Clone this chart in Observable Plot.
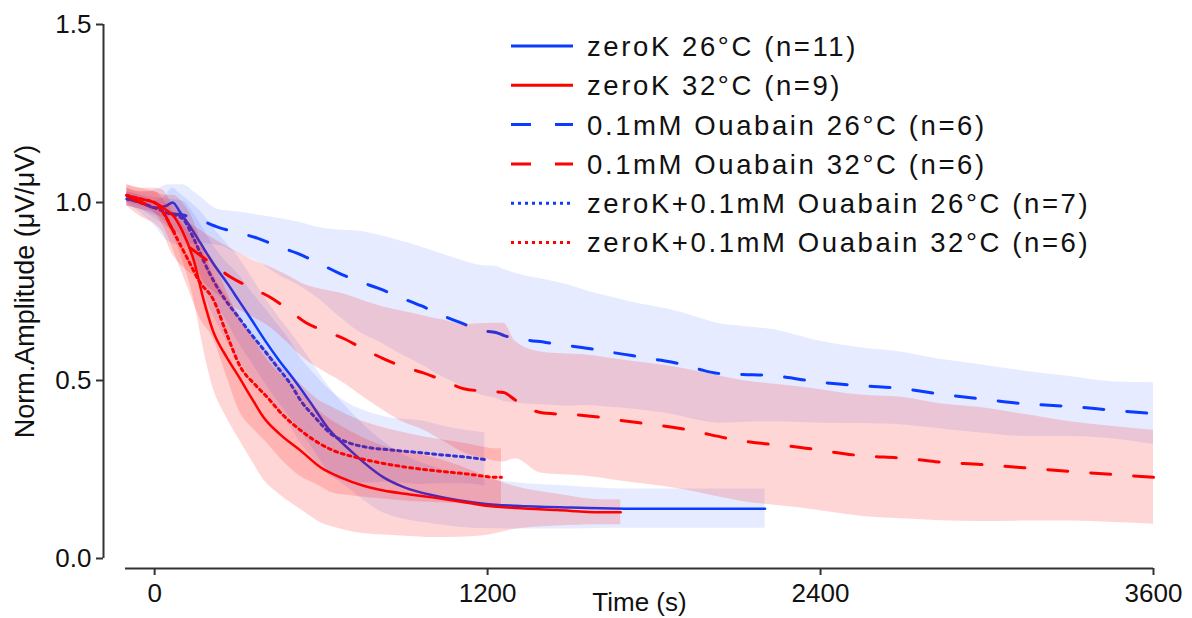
<!DOCTYPE html>
<html><head><meta charset="utf-8">
<script src="https://cdn.jsdelivr.net/npm/d3@7"></script>
<script src="https://cdn.jsdelivr.net/npm/@observablehq/plot@0.6"></script>
<style>body{margin:0;background:#fff;font-family:Arial,"Liberation Sans",sans-serif}</style>
</head><body><div id="chart"></div>
<script>
// ---------- data ----------
const xTicks = [0, 1200, 2400, 3600];
const yTicks = [0, 0.5, 1.0, 1.5];

const labels = [
  "zeroK 26°C (n=11)",
  "zeroK 32°C (n=9)",
  "0.1mM Ouabain 26°C (n=6)",
  "0.1mM Ouabain 32°C (n=6)",
  "zeroK+0.1mM Ouabain 26°C (n=7)",
  "zeroK+0.1mM Ouabain 32°C (n=6)"
];

// zeroK 26°C
const t_zk26 = [-100,-50,0,40,65,90,130,166,210,263,303,350,400,450,500,560,623,706,825,900,1006,1100,1186,1300,1500,1700,1900,2100,2200];
const m_zk26 = [1.01,1.0,0.985,0.99,1.0,0.975,0.93,0.885,0.83,0.772,0.725,0.67,0.61,0.555,0.505,0.44,0.368,0.303,0.228,0.2,0.177,0.163,0.154,0.148,0.143,0.14,0.14,0.14,0.14];
const s_zk26 = [0.02,0.02,0.02,0.03,0.04,0.05,0.07,0.09,0.1,0.11,0.12,0.12,0.12,0.12,0.12,0.12,0.12,0.11,0.1,0.09,0.08,0.075,0.07,0.065,0.06,0.055,0.055,0.055,0.055];

// zeroK 32°C
const t_zk32 = [-100,-50,0,40,70,100,140,177,210,260,300,350,393,450,526,600,670,750,825,920,1006,1100,1186,1300,1450,1607,1680];
const m_zk32 = [1.02,1.01,1.0,0.98,0.96,0.92,0.84,0.725,0.64,0.565,0.515,0.45,0.396,0.35,0.303,0.255,0.228,0.205,0.191,0.18,0.171,0.16,0.149,0.142,0.136,0.13,0.13];
const s_zk32 = [0.03,0.03,0.03,0.04,0.06,0.08,0.11,0.14,0.16,0.17,0.175,0.175,0.175,0.17,0.165,0.155,0.145,0.135,0.125,0.118,0.112,0.1,0.085,0.06,0.045,0.035,0.035];

// 0.1mM Ouabain 26°C
const t_ou26 = [-100,-50,0,50,100,150,230,300,370,450,515,590,660,730,810,880,960,1030,1100,1180,1230,1260,1330,1410,1490,1565,1640,1720,1800,1885,1960,2030,2120,2220,2400,2550,2700,2820,2970,3130,3300,3460,3600];
const m_ou26 = [1.02,1.0,0.985,0.97,0.965,0.955,0.93,0.915,0.9,0.875,0.857,0.83,0.803,0.78,0.758,0.735,0.71,0.685,0.663,0.64,0.635,0.626,0.615,0.607,0.598,0.59,0.58,0.57,0.56,0.548,0.532,0.52,0.517,0.514,0.495,0.485,0.477,0.463,0.449,0.435,0.427,0.416,0.407];
const s_ou26 = [0.02,0.03,0.05,0.08,0.085,0.07,0.05,0.058,0.065,0.08,0.088,0.1,0.12,0.14,0.15,0.158,0.165,0.172,0.176,0.182,0.185,0.185,0.18,0.176,0.17,0.16,0.155,0.15,0.148,0.146,0.144,0.14,0.135,0.13,0.115,0.106,0.102,0.098,0.096,0.092,0.084,0.08,0.087];

// 0.1mM Ouabain 32°C
const t_ou32 = [-100,-50,0,30,60,100,155,220,281,350,418,480,544,610,681,750,822,890,966,1040,1114,1190,1258,1300,1391,1470,1546,1680,1895,2112,2328,2544,2713,2814,2977,3132,3294,3456,3600];
const m_ou32 = [1.02,1.0,0.99,0.975,0.93,0.89,0.857,0.82,0.787,0.76,0.733,0.7,0.663,0.64,0.618,0.59,0.562,0.54,0.522,0.5,0.477,0.47,0.466,0.445,0.41,0.405,0.402,0.388,0.365,0.331,0.312,0.289,0.281,0.272,0.264,0.255,0.245,0.236,0.228];
const s_ou32 = [0.03,0.04,0.05,0.06,0.07,0.07,0.07,0.075,0.08,0.08,0.085,0.095,0.105,0.115,0.125,0.135,0.145,0.155,0.16,0.17,0.18,0.19,0.195,0.165,0.17,0.17,0.17,0.17,0.17,0.17,0.17,0.17,0.17,0.165,0.16,0.15,0.14,0.135,0.132];

// zeroK+0.1mM Ouabain 26°C
const t_zo26 = [-100,-50,0,50,100,140,180,218,256,300,346,400,443,490,526,580,634,700,768,850,948,1050,1120,1190];
const m_zo26 = [1.01,1.0,0.985,0.97,0.955,0.9,0.83,0.772,0.725,0.68,0.632,0.58,0.537,0.49,0.444,0.395,0.351,0.325,0.312,0.305,0.298,0.29,0.285,0.278];
const s_zo26 = [0.02,0.02,0.03,0.04,0.05,0.07,0.09,0.1,0.11,0.12,0.12,0.12,0.12,0.12,0.12,0.12,0.12,0.11,0.1,0.09,0.09,0.08,0.075,0.075];

// zeroK+0.1mM Ouabain 32°C
const t_zo32 = [-100,-50,0,40,80,120,160,213,260,310,360,407,460,526,590,645,720,825,920,1006,1120,1236,1250];
const m_zo32 = [1.02,1.01,1.0,0.96,0.9,0.84,0.78,0.725,0.63,0.537,0.49,0.452,0.405,0.36,0.325,0.303,0.285,0.267,0.255,0.247,0.238,0.228,0.228];
const s_zo32 = [0.02,0.02,0.03,0.04,0.06,0.08,0.1,0.11,0.12,0.13,0.13,0.13,0.13,0.13,0.12,0.12,0.11,0.1,0.095,0.09,0.085,0.08,0.08];

// ---------- styles ----------
const BLUE = "#0a3cff", RED = "#ff0000";
const series = [
  {label: labels[0], color: BLUE, dash: null,    t: t_zk26, m: m_zk26, s: s_zk26},
  {label: labels[1], color: RED,  dash: null,    t: t_zk32, m: m_zk32, s: s_zk32},
  {label: labels[2], color: BLUE, dash: "20,23", t: t_ou26, m: m_ou26, s: s_ou26},
  {label: labels[3], color: RED,  dash: "20,23", t: t_ou32, m: m_ou32, s: s_ou32},
  {label: labels[4], color: BLUE, dash: "3,4",   t: t_zo26, m: m_zo26, s: s_zo26},
  {label: labels[5], color: RED,  dash: "3,4",   t: t_zo32, m: m_zo32, s: s_zo32}
];
series.forEach(S => { S.rows = S.t.map((t, i) => ({t, m: S.m[i], lo: S.m[i] - S.s[i], hi: S.m[i] + S.s[i]})); });

const areaMark = S => Plot.areaY(S.rows, {x: "t", y1: "lo", y2: "hi", curve: "monotone-x",
  fill: S.color, fillOpacity: S.color === RED ? 0.16 : 0.1});
const lineMark = S => Plot.lineY(S.rows, {x: "t", y: "m", curve: "monotone-x", stroke: S.color,
  strokeWidth: S.dash ? 3 : 2.5, strokeDasharray: S.dash || undefined});

const blues = series.filter(S => S.color === BLUE);
const reds = series.filter(S => S.color === RED);
const marks = [
  ...blues.map(areaMark), ...blues.map(lineMark),
  ...reds.map(areaMark), ...reds.map(lineMark)
];

marks.push(
  Plot.ruleX([-105], {y1: 0, y2: 1.5, dx: -22, stroke: "#333", strokeWidth: 2}),
  Plot.axisY({ticks: yTicks, tickFormat: d3.format(".1f"), dx: -22, tickSize: 7, tickPadding: 5, fontSize: 26, label: null, stroke: "#333", strokeWidth: 2}),
  Plot.ruleY([0], {x1: -105, x2: 3600, dy: 10, stroke: "#333", strokeWidth: 2}),
  Plot.axisX({ticks: xTicks, tickFormat: d => String(d), dy: 10, tickSize: 7, tickPadding: 8, fontSize: 26, label: null, stroke: "#333", strokeWidth: 2}),
  Plot.text(["Time (s)"], {frameAnchor: "bottom", dy: 52, lineAnchor: "bottom", textAnchor: "middle", fontSize: 26}),
  Plot.text(["Norm.Amplitude (μV/μV)"], {frameAnchor: "left", rotate: -90, dx: -92, lineAnchor: "bottom", textAnchor: "middle", fontSize: 27})
);

const chart = Plot.plot({
  width: 1192, height: 618,
  marginLeft: 125, marginRight: 39, marginTop: 24, marginBottom: 60,
  x: {domain: [-105, 3600]},
  y: {domain: [0, 1.5]},
  style: {fontFamily: "Arial, 'Liberation Sans', sans-serif", fontSize: "26px", color: "#111", background: "#fff"},
  marks
});
document.getElementById("chart").appendChild(chart);

// legend
const svg = d3.select(chart);
const g = svg.append("g").attr("class", "legend").attr("text-anchor", "start");
series.forEach((S, i) => {
  const y = 46 + i * 39.3;
  g.append("line").attr("x1", 511).attr("x2", 573).attr("y1", y).attr("y2", y)
    .attr("stroke", S.color).attr("stroke-width", 3)
    .attr("stroke-dasharray", S.dash === "3,4" ? "3,4" : S.dash ? "20,24" : null);
  g.append("text").attr("x", 587).attr("y", y).attr("dy", "0.36em").attr("text-anchor", "start")
    .attr("font-size", 27.5).attr("letter-spacing", 2.6).attr("fill", "#111").text(S.label);
});
</script></body></html>
